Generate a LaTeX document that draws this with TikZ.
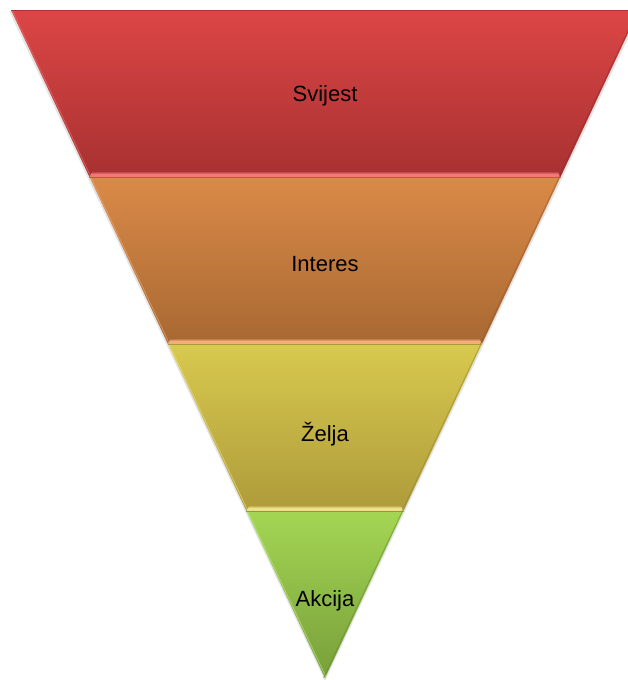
\documentclass[tikz,border=0pt]{standalone}
\usepackage{fontspec}
\setmainfont{Liberation Sans}
\definecolor{redtop}{HTML}{DC4646}
\definecolor{redbot}{HTML}{A83131}
\definecolor{redhi}{HTML}{F27878}
\definecolor{orgtop}{HTML}{DA8A48}
\definecolor{orgbot}{HTML}{A86832}
\definecolor{orghi}{HTML}{F2AE7C}
\definecolor{yeltop}{HTML}{D8C94F}
\definecolor{yelbot}{HTML}{AE9B3A}
\definecolor{yelhi}{HTML}{EEE08A}
\definecolor{grntop}{HTML}{A4D654}
\definecolor{grnbot}{HTML}{789F3A}
\definecolor{grnhi}{HTML}{C4EC84}
\begin{document}
\begin{tikzpicture}[x=1pt,y=-1pt,
  band/.style={draw=none},
  rim/.style={line width=1.2pt},
  lbl/.style={font=\fontsize{22}{26}\selectfont,text=black}]
\useasboundingbox (0,0) rectangle (628,680);
\clip (0,0) rectangle (628,680);
% soft shadow round the funnel
\fill[black,opacity=0.10] (9,11) -- (641,11) -- (325,681) -- cycle;
\foreach \ct/\cb/\ch/\ly/\txt [count=\i from 0] in
  {redtop/redbot/redhi/96/Svijest,
   orgtop/orgbot/orghi/264/Interes,
   yeltop/yelbot/yelhi/434/Želja,
   grntop/grnbot/grnhi/601/Akcija}
{
  \pgfmathsetmacro\ya{10+167*\i}
  \pgfmathsetmacro\yb{\ya+167}
  \pgfmathsetmacro\xla{11+0.47*(\ya-10)}
  \pgfmathsetmacro\xra{639-0.47*(\ya-10)}
  \pgfmathsetmacro\xlb{11+0.47*(\yb-10)}
  \pgfmathsetmacro\xrb{639-0.47*(\yb-10)}
  \pgfmathsetmacro\yh{\yb-6}
  \pgfmathsetmacro\xlh{11+0.47*(\yh-10)}
  \pgfmathsetmacro\xrh{639-0.47*(\yh-10)}
  \shade[band,top color=\ct,bottom color=\cb]
    (\xla,\ya) -- (\xra,\ya) -- (\xrb,\yb) -- (\xlb,\yb) -- cycle;
  % bevel: light rim at the bottom, dark line on top
  \ifnum\i<3
    \shade[band,top color=\cb,bottom color=\ch,middle color=\ch]
      (\xlh+6,\yh) -- (\xrh-6,\yh) -- (\xrb,\yb) -- (\xlb,\yb) -- cycle;
  \fi
  \draw[rim,\cb!80!black,opacity=0.6] (\xla,\ya+0.6) -- (\xra,\ya+0.6);
  \draw[\ch,opacity=0.5,line width=1pt] (\xla+1.5,\ya+1) -- (\xlb+1.5,\yb);
  \draw[\cb!85!black,opacity=0.5,line width=1pt] (\xra-1.5,\ya+1) -- (\xrb-1.5,\yb);
  \node[lbl] (l\i) at (325,\ly) {\txt};
}
\end{tikzpicture}
\end{document}
